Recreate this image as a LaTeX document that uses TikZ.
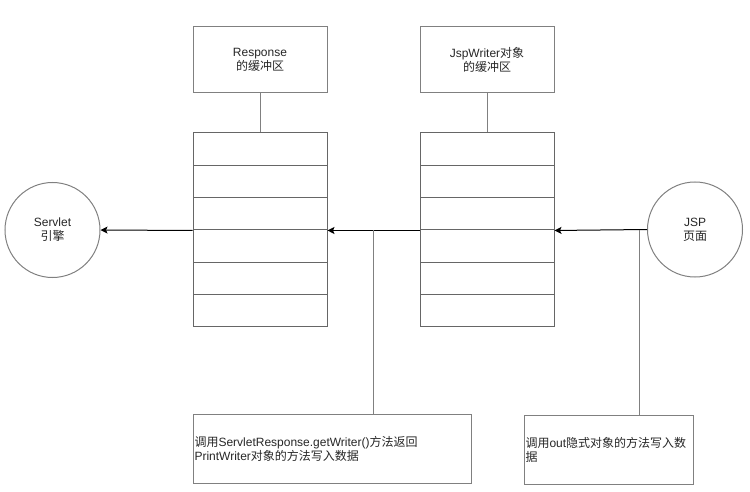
\documentclass[tikz,border=0pt]{standalone}
\usepackage{fontspec}
\setmainfont{Liberation Sans}
\newfontfamily\cjk{Noto Sans CJK SC}
\usetikzlibrary{arrows.meta}

\tikzset{
  box/.style={draw=gray, line width=1pt, rectangle, inner sep=1pt, align=center,
    font=\fontsize{12}{14}\selectfont, text=black!85},
  cell/.style={draw=black!60, line width=1pt, rectangle, minimum width=134pt,
    minimum height=32.33pt, inner sep=0pt},
  ball/.style={draw=gray, line width=1pt, circle, minimum size=95pt, align=center,
    font=\fontsize{12}{14}\selectfont, text=black!85},
  note/.style={box, align=left, minimum height=69pt},
  flow/.style={line width=1pt, -{Stealth[length=7pt,width=7pt,inset=1.5pt]}},
  link/.style={draw=gray, line width=1pt}
}

\begin{document}
\begin{tikzpicture}[x=1pt, y=-1pt]
  \useasboundingbox (0,0) rectangle (750,492);

  % engine and page
  \node[ball] (servlet) at (52.5,230) {Servlet\\{\cjk 引擎}};
  \node[ball] (jsp) at (695,229.5) {JSP\\{\cjk 页面}};

  % buffer titles
  \node[box, minimum width=134pt, minimum height=66pt] (rhead) at (260,60)
    {Response\\{\cjk 的缓冲区}};
  \node[box, minimum width=134pt, minimum height=66pt] (whead) at (487,60)
    {JspWriter{\cjk 对象}\\{\cjk 的缓冲区}};

  % buffer cells
  \foreach \i in {1,...,6} {
    \node[cell] (rb-\i) at (260,{133+32.33*(\i-0.5)}) {};
    \node[cell] (wb-\i) at (487,{133+32.33*(\i-0.5)}) {};
  }
  \draw[link] (rhead) -- (rb-1);
  \draw[link] (whead) -- (wb-1);

  % data flow
  \draw[flow] (jsp.west) -- (wb-3.south east);
  \draw[flow] (wb-3.south west) -- (rb-3.south east);
  \draw[flow] (rb-3.south west) -- (servlet.east);

  % notes
  \node[note, text width=276pt] (note1) at (332.5,448.5)
    {{\cjk 调用}ServletResponse.getWriter(){\cjk 方法返回}\\PrintWriter{\cjk 对象的方法写入数据}};
  \node[note, text width=167pt] (note2) at (609,449.5)
    {{\cjk 调用}out{\cjk 隐式对象的方法写入数}\\{\cjk 据}};
  \coordinate (tap1) at (373,230);
  \coordinate (tap2) at (639,230);
  \draw[link] (tap1) -- (tap1 |- note1.north);
  \draw[link] (tap2) -- (tap2 |- note2.north);
\end{tikzpicture}
\end{document}
